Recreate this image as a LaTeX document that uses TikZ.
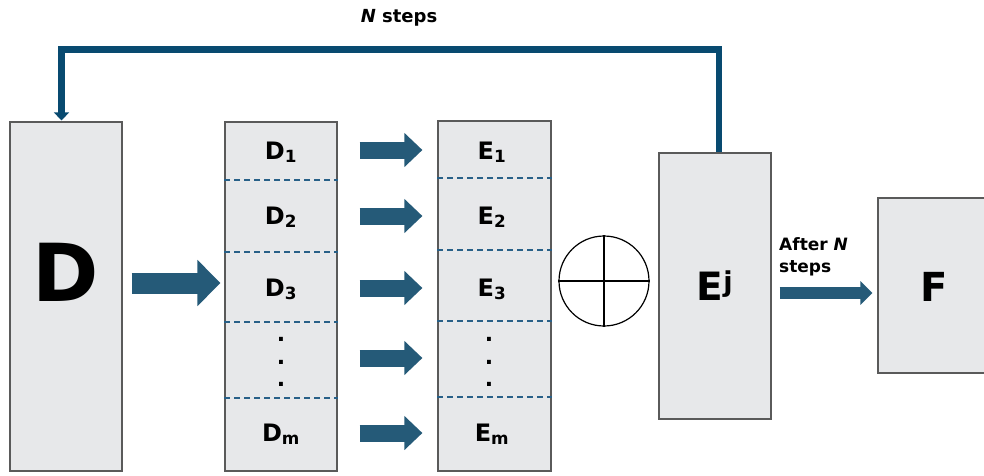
\documentclass[tikz,border=0pt]{standalone}
\usepackage{fontspec}
\setmainfont{DejaVu Sans}
\usetikzlibrary{arrows.meta, positioning, calc}

\definecolor{boxgray}{RGB}{231,232,234}
\definecolor{edgegray}{RGB}{90,90,90}
\definecolor{flowblue}{RGB}{37,90,120}
\definecolor{loopblue}{RGB}{8,74,112}
\definecolor{cutblue}{RGB}{40,96,136}

\begin{document}
\begin{tikzpicture}[x=1pt, y=-1pt,
    block/.style={draw=edgegray, fill=boxgray, line width=1.2pt, inner sep=0pt},
    cut/.style={cutblue, line width=1.4pt, dash pattern=on 6pt off 4pt},
    part/.style={font=\fontsize{24}{28}\selectfont\bfseries, anchor=base, inner sep=0pt},
    dots/.style={font=\fontsize{22}{22.5}\selectfont\bfseries, align=center, inner sep=0pt},
    bigarrow/.style={flowblue, line width=21pt, -{Triangle[width=45pt, length=23pt]}},
    midarrow/.style={flowblue, line width=17pt, -{Triangle[width=33pt, length=18pt]}},
    thinarrow/.style={flowblue, line width=12pt, -{Triangle[width=23pt, length=12pt]}}]
    \useasboundingbox (0,0) rectangle (984,475);

    % boxes
    \node[block, minimum width=112pt, minimum height=349pt] (dbox) at (66,296.5) {};
    \node[block, minimum width=112pt, minimum height=349pt] (dlist) at (281,296.5) {};
    \node[block, minimum width=113pt, minimum height=350pt] (elist) at (494.5,296) {};
    \node[block, minimum width=112pt, minimum height=266pt] (ej) at (715,286) {};
    \node[block, minimum width=112pt, minimum height=175pt] (fbox) at (934,285.5) {};

    \node[font=\fontsize{80}{80}\selectfont\bfseries, inner sep=0pt] (dname) at (66,272) {D};
    \node[font=\fontsize{39}{42}\selectfont\bfseries, inner sep=0pt] (ejname) at (715,286) {E\textsuperscript{j}};
    \node[font=\fontsize{40}{42}\selectfont\bfseries, inner sep=0pt] (fname) at (934,287) {F};

    % splits
    \draw[cut] (dlist.west |- 0,180) -- (dlist.east |- 0,180);
    \draw[cut] (dlist.west |- 0,252) -- (dlist.east |- 0,252);
    \draw[cut] (dlist.west |- 0,322) -- (dlist.east |- 0,322);
    \draw[cut] (dlist.west |- 0,398) -- (dlist.east |- 0,398);
    \draw[cut] (elist.west |- 0,178) -- (elist.east |- 0,178);
    \draw[cut] (elist.west |- 0,250) -- (elist.east |- 0,250);
    \draw[cut] (elist.west |- 0,321) -- (elist.east |- 0,321);
    \draw[cut] (elist.west |- 0,397) -- (elist.east |- 0,397);

    \node[part] (d1) at (281,159) {D\textsubscript{1}};
    \node[part] (d2) at (281,224) {D\textsubscript{2}};
    \node[part] (d3) at (281,296) {D\textsubscript{3}};
    \node[dots] (ddots) at (281,362) {.\\.\\.};
    \node[part] (dm) at (281,441) {D\textsubscript{m}};

    \node[part] (e1) at (492,159) {E\textsubscript{1}};
    \node[part] (e2) at (492,224) {E\textsubscript{2}};
    \node[part] (e3) at (492,296) {E\textsubscript{3}};
    \node[dots] (edots) at (489,362) {.\\.\\.};
    \node[part] (em) at (492,441) {E\textsubscript{m}};

    % combine
    \node[circle, draw, line width=1.2pt, minimum size=90pt, inner sep=0pt] (sum) at (604,281) {};
    \draw[line width=1.2pt] (sum.north) -- (sum.south) (sum.west) -- (sum.east);

    % flow
    \coordinate (split) at (0,283);
    \draw[bigarrow, shorten <=9pt, shorten >=4pt] (dbox.east |- split) -- (dlist.west |- split);
    \draw[midarrow, shorten <=22pt, shorten >=15pt] (dlist.east |- 0,150) -- (elist.west |- 0,150);
    \draw[midarrow, shorten <=22pt, shorten >=15pt] (dlist.east |- 0,216) -- (elist.west |- 0,216);
    \draw[midarrow, shorten <=22pt, shorten >=15pt] (dlist.east |- 0,288) -- (elist.west |- 0,288);
    \draw[midarrow, shorten <=22pt, shorten >=15pt] (dlist.east |- 0,358) -- (elist.west |- 0,358);
    \draw[midarrow, shorten <=22pt, shorten >=15pt] (dlist.east |- 0,433) -- (elist.west |- 0,433);

    \coordinate (out) at (0,293);
    \draw[thinarrow, shorten <=8pt, shorten >=5pt] (ej.east |- out) -- (fbox.west |- out);
    \node[font=\fontsize{17}{22}\selectfont\bfseries, align=left, anchor=west, inner sep=0pt] (after) at (779,257) {After \textit{N}\\steps};

    % loop back
    \coordinate (loop) at (61.5,49.5);
    \draw[loopblue, line width=6.5pt, -{Triangle[width=15pt, length=8pt]}, shorten >=1pt]
        ([xshift=4pt]ej.north) |- (loop) -- (loop |- dbox.north);
    \node[font=\fontsize{18}{20}\selectfont\bfseries] (nsteps) at (399,18) {\textit{N} steps};
\end{tikzpicture}
\end{document}
